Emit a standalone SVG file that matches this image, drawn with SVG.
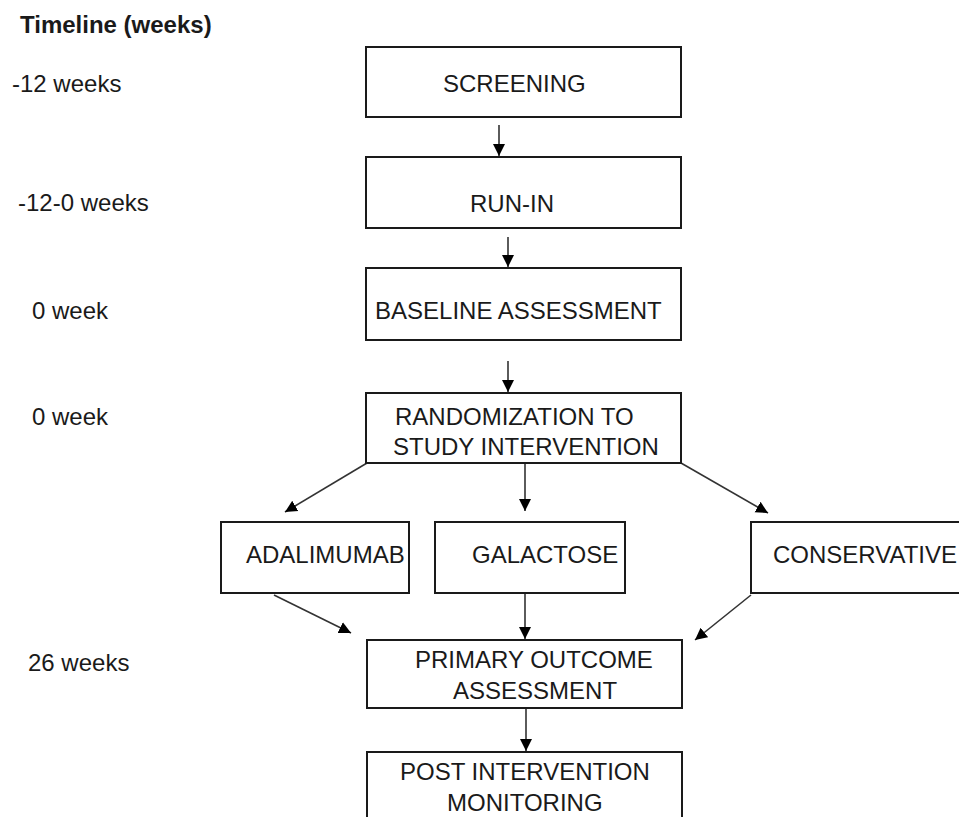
<svg xmlns="http://www.w3.org/2000/svg" width="959" height="817" viewBox="0 0 959 817">
<style>
  text { font-family: "Liberation Sans", Arial, sans-serif; font-size: 24px; fill: #1a1a1a; }
  .title { font-weight: bold; }
  .box { fill: #ffffff; stroke: #1a1a1a; stroke-width: 2; }
  .conn { stroke: #333333; stroke-width: 1.6; fill: none; marker-end: url(#ah); }
</style>
<defs>
  <marker id="ah" markerUnits="userSpaceOnUse" markerWidth="14" markerHeight="14" refX="12" refY="7" orient="auto">
    <path d="M0,1 L12,7 L0,13 Z" fill="#000000"/>
  </marker>
</defs>
<rect width="959" height="817" fill="#ffffff"/>
<g id="timeline">
  <text class="title" x="20" y="33">Timeline (weeks)</text>
  <text x="12" y="92">-12 weeks</text>
  <text x="18" y="211">-12-0 weeks</text>
  <text x="32" y="319">0 week</text>
  <text x="32" y="425">0 week</text>
  <text x="28" y="671">26 weeks</text>
</g>
<g id="connectors">
  <line class="conn" x1="499" y1="125" x2="499" y2="156"/>
  <line class="conn" x1="508" y1="237" x2="508" y2="267"/>
  <line class="conn" x1="508" y1="361" x2="508" y2="392"/>
  <line class="conn" x1="367" y1="463" x2="285" y2="512"/>
  <line class="conn" x1="525" y1="463" x2="525" y2="511"/>
  <line class="conn" x1="681" y1="463" x2="768" y2="513"/>
  <line class="conn" x1="274" y1="595" x2="351" y2="633"/>
  <line class="conn" x1="525" y1="593" x2="525" y2="639"/>
  <line class="conn" x1="751" y1="595" x2="695" y2="640"/>
  <line class="conn" x1="526" y1="708" x2="526" y2="751"/>
</g>
<g id="screening">
  <rect class="box" x="366" y="47" width="315" height="70"/>
  <text x="443" y="92">SCREENING</text>
</g>
<g id="run-in">
  <rect class="box" x="366" y="157" width="315" height="71"/>
  <text x="470" y="212">RUN-IN</text>
</g>
<g id="baseline">
  <rect class="box" x="366" y="268" width="315" height="72"/>
  <text x="375" y="319">BASELINE ASSESSMENT</text>
</g>
<g id="randomization">
  <rect class="box" x="366" y="393" width="315" height="70"/>
  <text x="395" y="425">RANDOMIZATION TO</text>
  <text x="393" y="455">STUDY INTERVENTION</text>
</g>
<g id="adalimumab">
  <rect class="box" x="221" y="522" width="188" height="71"/>
  <text x="246" y="563">ADALIMUMAB</text>
</g>
<g id="galactose">
  <rect class="box" x="435" y="522" width="190" height="71"/>
  <text x="472" y="563">GALACTOSE</text>
</g>
<g id="conservative">
  <rect class="box" x="751" y="522" width="260" height="71"/>
  <text x="773" y="563">CONSERVATIVE</text>
</g>
<g id="primary-outcome">
  <rect class="box" x="367" y="640" width="315" height="68"/>
  <text x="415" y="668">PRIMARY OUTCOME</text>
  <text x="453" y="699">ASSESSMENT</text>
</g>
<g id="post-intervention">
  <rect class="box" x="367" y="752" width="315" height="90"/>
  <text x="400" y="780">POST INTERVENTION</text>
  <text x="447" y="811">MONITORING</text>
</g>
</svg>
